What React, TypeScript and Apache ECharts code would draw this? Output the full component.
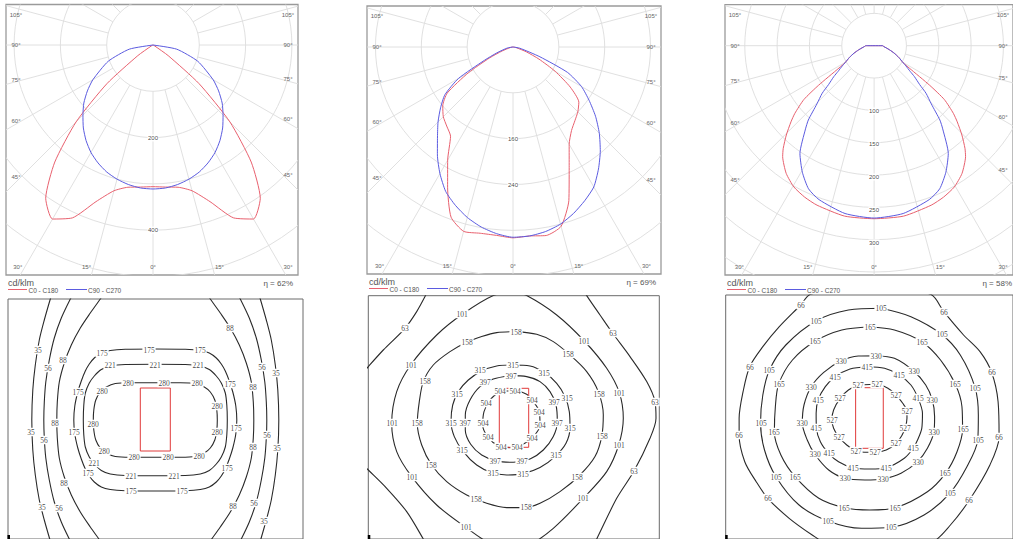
import React, { useEffect, useRef } from "react";
import * as echarts from "echarts";

// ---------------- Polar luminous intensity data (cd/klm) ----------------
const P1_ANGLES = [0, 5, 10, 15, 20, 25, 30, 35, 40, 45, 50, 55, 60, 70, 80, 90];
const P1_C0 = [306, 308, 312, 326, 360, 412, 434, 404, 330, 235, 130, 40, 5, 0, 0, 0];
const P1_C90 = [311, 310, 306, 300, 292, 281, 268, 252, 234, 214, 195, 173, 150, 103, 52, 0];

const P2_ANGLES = [-90, -80, -70, -65, -60, -55, -50, -45, -40, -35, -30, -25, -20, -15, -10, -5, 0, 5, 10, 15, 20, 25, 30, 35, 40, 45, 50, 55, 60, 65, 70, 80, 90];
const P2_C0 = [0, 4, 20, 45, 90, 140, 160, 172, 180, 190, 228, 270, 316, 333, 330, 330, 333, 331, 334, 324, 285, 232, 196, 178, 168, 160, 150, 122, 85, 50, 25, 5, 0];
const P2_C90 = [0, 10, 30, 55, 110, 145, 165, 185, 205, 230, 255, 278, 294, 308, 319, 327, 332, 331, 327, 320, 309, 296, 282, 260, 237, 213, 188, 162, 138, 105, 50, 12, 0];

const P3_ANGLES = [0, 10, 20, 25, 30, 35, 40, 42, 45, 48, 50, 53, 55, 58, 60, 65, 70, 75, 80, 85, 90];
const P3_C0 = [263, 263, 258, 254, 248, 237, 220, 210, 192, 173, 160, 136, 105, 64, 52, 42, 33, 25, 19, 15, 13];
const P3_C90 = [262, 259, 249, 240, 222, 200, 165, 152, 125, 108, 92, 78, 68, 58, 52, 42, 33, 25, 19, 15, 13];

const P1_RING_LABELS = [200, 400];
const P2_RING_LABELS = [160, 240];
const P3_RING_LABELS = [100, 150, 200, 250, 300];
const P_STEPS = [100, 80, 50];
const SIDE_ANGLES = [105, 90, 75, 60, 45];
const BOTTOM_ANGLES = [-30, -15, 0, 15, 30];
const EFFICIENCY = ["62%", "69%", "58%"];
const UNIT = "cd/klm";
const LEGEND = ["C0 - C180", "C90 - C270"];

// ---------------- Isolux contours (relative to luminaire centre) ----------------
// panel 1: quadrant definitions (symmetric)
const C1_280_Q = [[0, -37.3], [25, -37.3], [40, -36.5], [49, -33], [55, -28], [59.5, -20], [61.5, -10], [62, 0]];
const C1_221_Q = [[0, -55.7], [30, -55.5], [45, -54], [54, -50.5], [61, -44], [66, -37], [70, -27], [71.5, -15], [72, 0]];
const C1_175_Q = [[0, -71], [30, -70.7], [45, -69.5], [54, -67], [61, -62], [66, -56], [70, -49], [74, -39], [77.5, -28], [80.5, -14], [81.5, 0]];
const C1_88_Q = [[53, -124], [55, -121], [65, -107], [75, -92], [84, -75], [91, -57], [96, -38], [98, -18], [98.5, 0]];
const C1_56_Q = [[83, -124], [85, -121], [94, -102], [101, -82], [106, -60], [109.5, -38], [111, -18], [111.5, 0]];
const C1_35_Q = [[104, -124], [105, -121], [111, -100], [116, -80], [120, -55], [122.5, -30], [123.5, 0]];
const C1_LUM = [[-15, -32], [15, -32], [15, 31], [-15, 31], [-15, -32]];
const C1_LABELS = [
  [-117, -70, 35], [-92, -60, 88], [-107, -51.7, 56], [-77.7, -28.3, 175], [-100.3, 3.3, 88], [-81.3, 11.7, 175], [-124.7, 11.7, 35], [-111, 20, 56], [-61, 43.3, 221], [-67.7, 53.3, 175], [-91, 63.3, 88], [-113.7, 86.7, 35], [-96, 87.7, 56],
  [74.7, -92.3, 88], [107, -53.3, 56], [120.3, -46.7, 35], [74.7, -36, 175], [97.3, -33.3, 88], [80.7, 7.7, 175], [111.3, 15, 56], [98, 26.7, 88], [122, 27.7, 35], [71.3, 47.7, 175], [78, 85.7, 88], [98.7, 83.3, 56], [109, 101, 35],
  [-53, -67.3, 175], [-6.3, -70.5, 175], [44.7, -70, 175], [-45.3, -55.5, 221], [-0.3, -55.5, 221], [43, -55, 221], [-27, -37.3, 280], [8.7, -37.3, 280], [41.3, -36.8, 280], [-53.7, -29, 280], [61.3, -14.3, 280], [-62, 4.3, 280], [62, 11.7, 280], [-51, 31, 280], [-21.3, 37.3, 280], [12.3, 37.3, 280], [43.7, 36, 280], [-24.3, 55.7, 221], [19, 55.7, 221], [-24.7, 70.9, 175], [27, 70.7, 175],
];

// panel 2
const C2_504 = [[-14, -26.8], [1.3, -26.8], [12.7, -23.5], [19.3, -16.2], [25.3, -6.2], [26, 7.2], [19.3, 18.8], [7.7, 27.2], [-4, 29.8], [-15.7, 27.8], [-25.7, 19.8], [-31.3, 7.2], [-30, -6.2], [-24, -17.8]];
const C2_397 = [[-3.3, -42.2], [12.7, -41.2], [26, -36.2], [36, -26.2], [42, -12.8], [43.3, 3.8], [39.3, 18.8], [29.3, 32.2], [16, 41.2], [-0.7, 44.5], [-17.3, 43.2], [-32.3, 37.2], [-43.3, 26.5], [-48.7, 12.2], [-48.7, -2.8], [-44, -17.8], [-34, -31.2], [-20.7, -38.8]];
const C2_315 = [[-1.3, -52.8], [16, -51.8], [30, -45.5], [42.7, -34.5], [51, -21.2], [55.3, -6.2], [56, 9.8], [52, 25.5], [41, 38.8], [26, 49.8], [9.3, 55.8], [-7.3, 57.2], [-22.3, 54.8], [-37.3, 47.2], [-50.7, 33.8], [-59.7, 18.8], [-63, 3.8], [-61.3, -12.8], [-55.7, -26.2], [-45.7, -37.8], [-32.3, -46.8], [-17.3, -51.8]];
const C2_158 = [[2, -86.2], [22.7, -83.5], [39.3, -76.2], [56, -62.8], [72.7, -46.2], [84.3, -26.2], [89.3, -2.8], [87.7, 18.8], [81, 38.8], [66, 57.2], [46, 73.8], [26, 85.5], [11, 89.8], [-7.3, 89.8], [-27.3, 85.5], [-47.3, 77.2], [-67.3, 63.8], [-82.3, 47.2], [-92.3, 27.2], [-96.7, 5.5], [-94.7, -16.2], [-90.7, -36.2], [-80.7, -52.8], [-64, -66.2], [-47.3, -75.5], [-32.3, -81.2], [-17.3, -85.2]];
const C2_101 = [[-0.7, -126.2], [12.7, -122.2], [42.7, -102.8], [70.3, -76.8], [92.7, -49.5], [105.3, -25.2], [109.3, 0.5], [104.7, 27.2], [92.7, 53.8], [69.3, 80.5], [39.3, 110.5], [12.7, 128.8], [-0.7, 130.5], [-24, 125.5], [-48.3, 109.5], [-77.3, 87.2], [-102.3, 58.8], [-117.3, 33.8], [-122.3, 5.5], [-117.3, -26.2], [-103.3, -52.8], [-77.3, -82.8], [-51.7, -103.5], [-20.7, -122.2]];
const C2_63_UL = [[-150, -46], [-145.7, -51.2], [-130.7, -67.8], [-109, -89.5], [-97.3, -106.2], [-89, -121.2], [-87, -126]];
const C2_63_LL = [[-150, 48], [-145.7, 52.2], [-127.3, 70.5], [-107.3, 93.8], [-90.7, 121.2], [-89, 125]];
const C2_63_R = [[70, -127], [72.7, -122.2], [86, -102.8], [98.7, -84.5], [116, -61.2], [132.7, -36.2], [141, -16.2], [142, 0.5], [136, 20.5], [120, 53.2], [102.7, 80.5], [82.7, 121.2], [80, 126]];
const C2_LUM = [[-14.7, -29.5], [14.7, -29.5], [14.7, 29.5], [-14.7, 29.5], [-14.7, -29.5]];
const C2_LABELS = [
  [-51.7, -103.5, 101], [-109, -89.5, 63], [2, -85.5, 158], [-47.3, -75.5, 158], [70.3, -76.8, 101], [98.7, -84.5, 63], [54, -63.5, 158], [-103.3, -52.8, 101], [-89.5, -36.8, 158],
  [-34, -47.8, 315], [-1.3, -52.8, 315], [-3.3, -42.2, 397], [-29, -35.5, 397], [30, -45, 315], [-57.3, -23.8, 315], [-14, -26.5, 504], [1.3, -26.5, 504], [-28.3, -15.2, 504], [17.7, -17.8, 504],
  [40.3, -15.5, 397], [52.7, -19.8, 315], [85.3, -23.5, 158], [105.3, -25.2, 101], [141, -15.5, 63], [25.3, -6.2, 504], [-122.3, 5.5, 101], [-96.7, 5.5, 158], [-63, 5.5, 315], [-48.7, 5.5, 397], [-31.3, 5.5, 504],
  [25.8, 7.2, 504], [43, 4.8, 397], [55.5, 9.8, 315], [87.5, 17.8, 158], [104.7, 27.2, 101], [-26.3, 19.5, 504], [17.7, 19.8, 504], [-12.7, 29.5, 504], [2.7, 29.5, 504], [-52, 32.2, 315], [41.5, 37.2, 315],
  [-19, 43.2, 397], [7.7, 43.2, 397], [-83, 47.2, 158], [120, 53.2, 63], [-21.3, 54.8, 315], [9.3, 55.8, 315], [-102.3, 58.8, 101], [63, 58.8, 158], [69.3, 80.5, 101], [-38, 81.5, 158], [12, 89.5, 158], [-48.3, 109.5, 101],
];

// panel 3
const C3_527 = [[-11.3, -33], [7.7, -33.7], [18.7, -29.7], [27, -23], [33.7, -14.7], [38, -7], [38, 0.3], [36.3, 9.7], [32.7, 17.7], [27, 25.3], [17, 32], [5.3, 34.3], [-4.7, 34.3], [-14, 32.7], [-23, 27], [-31.3, 18.7], [-36.3, 10.3], [-38, 2], [-36.3, -8], [-29.7, -19.7], [-21.3, -28]];
const C3_415 = [[-2.3, -51.3], [15.3, -49.7], [30.3, -43], [42, -33], [49.3, -19.7], [53.7, -4.7], [53, 10.3], [48.7, 22], [44.3, 30.3], [35.3, 40.3], [17, 49.7], [0.3, 51], [-17, 49.7], [-31.3, 43.7], [-41.3, 35.3], [-49.7, 23.7], [-53.7, 9.7], [-54, -4.7], [-52, -18], [-44.7, -31.3], [-34.7, -41.3], [-19.7, -49]];
const C3_330 = [[7, -62.3], [25.3, -59.7], [44.7, -47], [57, -33], [63.7, -18], [66, -1.3], [65.3, 13.7], [58.7, 30.3], [48.7, 43.7], [32, 55.3], [13.7, 61], [-4.7, 62], [-24.7, 60.3], [-41.3, 52], [-55.3, 36.3], [-63, 22], [-68, 5.3], [-66.3, -13], [-59, -31.3], [-46.3, -45.7], [-29, -57], [-11.3, -62]];
const C3_165 = [[0.3, -91.3], [25.3, -88], [53, -76.3], [72, -58], [87, -33.7], [93.7, -11.3], [94.3, 11], [88.7, 33.7], [77, 55.3], [58.7, 73.7], [26.3, 89.7], [0.3, 92], [-25.3, 89.7], [-51.3, 80.3], [-75.3, 58.7], [-89.7, 37], [-96.3, 13.7], [-95.3, -11.3], [-92, -33.7], [-78, -58], [-54.7, -77], [-28, -88]];
const C3_105 = [[12, -109.7], [42, -101.3], [73, -83.7], [92, -63], [107, -30.3], [110.3, -3], [109.7, 22], [98.7, 48.7], [81.3, 75.3], [55.3, 97], [22, 109.3], [-8, 110.3], [-42, 103], [-71.3, 87], [-94.7, 58.7], [-106.3, 32], [-110.3, 4.7], [-108, -23], [-101.3, -48], [-84.7, -73], [-53.7, -97.3], [-21.3, -108]];
const C3_66 = [[0, -135], [62, -123.7], [75.3, -106.3], [95.3, -83], [112, -66.3], [123.7, -45.7], [130.3, -16.3], [131.3, 18.7], [122, 47], [101.3, 82], [82, 107], [62, 125.3], [0, 138], [-41.3, 127], [-58, 117], [-81.3, 100.3], [-103, 80.3], [-114.7, 63.7], [-126.3, 43.7], [-132, 17], [-132, 0.3], [-128, -26.3], [-121.3, -51.3], [-108, -71.3], [-91.3, -91.3], [-69.7, -113], [-59.7, -123.7]];
const C3_LUM = [[-14, -30.3], [14, -30.3], [14, 30.3], [-14, 30.3], [-14, -30.3]];
const C3_LABELS = [
  [-69.7, -113, 66], [12, -109.7, 105], [75.3, -106.3, 66], [-53.7, -97.3, 105], [0.3, -91.3, 165], [73, -83.7, 105], [-54.7, -77, 165], [53, -76.3, 165], [-29, -57, 330], [7, -62.3, 330],
  [-2.3, -51.3, 415], [-121.3, -51.3, 66], [-101.3, -48, 105], [44.7, -47, 330], [123.7, -45.7, 66], [-34.7, -41.3, 415], [30.3, -43, 415], [-92, -33.7, 165], [87, -33.7, 165], [107, -30.3, 105],
  [-11.3, -33, 527], [7.7, -33.7, 527], [-59, -31.3, 330], [-29.7, -19.7, 527], [-52, -18, 415], [27, -23, 527], [49.3, -19.7, 415], [63.7, -18, 330], [38, -7, 527], [-110.3, 4.7, 105],
  [-96.3, 13.7, 165], [-68, 5.3, 330], [-53.7, 9.7, 415], [-38, 2, 527], [36.3, 9.7, 527], [65.3, 13.7, 330], [94.3, 11, 165], [109.7, 22, 105], [-132, 17, 66], [131.3, 18.7, 66],
  [-31.3, 18.7, 527], [27, 25.3, 527], [44.3, 30.3, 415], [-14, 32.7, 527], [5.3, 34.3, 527], [-41.3, 35.3, 415], [-55.3, 36.3, 330], [48.7, 43.7, 330], [-17, 49.7, 415], [17, 49.7, 415],
  [77, 55.3, 165], [-94.7, 58.7, 105], [-75.3, 58.7, 165], [-24.7, 60.3, 330], [13.7, 61, 330], [81.3, 75.3, 105], [-103, 80.3, 66], [101.3, 82, 66], [-25.3, 89.7, 165], [26.3, 89.7, 165],
  [-42, 103, 105], [22, 109.3, 105],
];

// ---------------- helpers ----------------
const SANS = "Liberation Sans, Arial, sans-serif";
const SERIF = "Liberation Serif, Times New Roman, serif";
const RED = "#e8606e";
const BLUE = "#5b5be0";
const GRID_LINE = "#dcdcdc";
const rad = (a: number) => (a * Math.PI) / 180;
const toXY = (a: number, v: number) => [v * Math.sin(rad(a)), -v * Math.cos(rad(a))];
const mirrorCurve = (angles: number[], values: number[]) => {
  const out: number[][] = [];
  for (let i = angles.length - 1; i > 0; i--) out.push(toXY(-angles[i], values[i]));
  for (let i = 0; i < angles.length; i++) out.push(toXY(angles[i], values[i]));
  return out;
};
const directCurve = (angles: number[], values: number[]) => angles.map((a, i) => toXY(a, values[i]));
const closed = (pts: number[][]) => [...pts, pts[0]];
const quadLoop = (q: number[][]) => {
  const ur = q;
  const lr = q.slice(0, -1).reverse().map(([x, y]) => [x, -y]);
  const ll = q.slice(1).map(([x, y]) => [-x, -y]);
  const ul = q.slice(0, -1).reverse().map(([x, y]) => [-x, y]);
  return [...ur, ...lr, ...ll, ...ul];
};
const halfCurve = (q: number[][], sign: number) => {
  const top = q.map(([x, y]) => [sign * x, y]);
  const bottom = q.slice(0, -1).reverse().map(([x, y]) => [sign * x, -y]);
  return [...top, ...bottom];
};

const POLAR = [
  { l: { left: 6, top: 4.5, width: 292, height: 270.5, cx: 153, cy: 45, upp: 100 / 46.3 }, step: P_STEPS[0], rings: P1_RING_LABELS, c0: mirrorCurve(P1_ANGLES, P1_C0), c90: mirrorCurve(P1_ANGLES, P1_C90), eff: EFFICIENCY[0] },
  { l: { left: 367, top: 6, width: 294, height: 268, cx: 513, cy: 47, upp: 1.745 }, step: P_STEPS[1], rings: P2_RING_LABELS, c0: directCurve(P2_ANGLES, P2_C0), c90: directCurve(P2_ANGLES, P2_C90), eff: EFFICIENCY[1] },
  { l: { left: 725, top: 4.7, width: 293, height: 270.3, cx: 876.7, cy: 45.7, upp: 1.52 }, step: P_STEPS[2], rings: P3_RING_LABELS, c0: closed(mirrorCurve(P3_ANGLES, P3_C0)), c90: closed(mirrorCurve(P3_ANGLES, P3_C90)), eff: EFFICIENCY[2] },
];

const CONTOURS = [
  {
    l: { left: 8, top: 299, width: 295, height: 240, cx: 155.3, cy: 420 },
    lines: [quadLoop(C1_280_Q), quadLoop(C1_221_Q), quadLoop(C1_175_Q), halfCurve(C1_88_Q, 1), halfCurve(C1_88_Q, -1), halfCurve(C1_56_Q, 1), halfCurve(C1_56_Q, -1), halfCurve(C1_35_Q, 1), halfCurve(C1_35_Q, -1)],
    lum: C1_LUM, labels: C1_LABELS,
  },
  {
    l: { left: 368.3, top: 295.7, width: 291, height: 243.3, cx: 514, cy: 417.8 },
    lines: [closed(C2_504), closed(C2_397), closed(C2_315), closed(C2_158), closed(C2_101), C2_63_UL, C2_63_LL, C2_63_R],
    lum: C2_LUM, labels: C2_LABELS,
  },
  {
    l: { left: 725.7, top: 295, width: 291, height: 244, cx: 871.3, cy: 418 },
    lines: [closed(C3_527), closed(C3_415), closed(C3_330), closed(C3_165), closed(C3_105), closed(C3_66)],
    lum: C3_LUM, labels: C3_LABELS,
  },
];

const txt = (text: string, x: number, y: number, size: number, fill: string, align = "left", family = SANS) => ({
  text, x, y, fill, fontSize: size, fontFamily: family,
  align, textAlign: align, verticalAlign: "middle", textVerticalAlign: "middle",
});

const makeGridRenderer = (step: number) => (params: any, api: any) => {
  const cs = params.coordSys;
  const c = api.coord([0, 0]);
  const unit = Math.abs(api.size([step, 0])[0]);
  const dx = Math.max(c[0] - cs.x, cs.x + cs.width - c[0]);
  const dy = Math.max(c[1] - cs.y, cs.y + cs.height - c[1]);
  const rMax = Math.hypot(dx, dy) + 2;
  const children: any[] = [];
  for (let r = unit; r < rMax + unit; r += unit) {
    children.push({ type: "circle", shape: { cx: c[0], cy: c[1], r }, style: { fill: "none", stroke: GRID_LINE, lineWidth: 0.9 } });
  }
  for (let a = 0; a < 360; a += 15) {
    const s = Math.sin(rad(a)), co = Math.cos(rad(a));
    children.push({ type: "line", shape: { x1: c[0] + unit * s, y1: c[1] + unit * co, x2: c[0] + rMax * s, y2: c[1] + rMax * co }, style: { stroke: GRID_LINE, lineWidth: 0.9 } });
  }
  const bottom = cs.y + cs.height;
  SIDE_ANGLES.forEach((a) => {
    [cs.x + 10, cs.x + cs.width - 10].forEach((x) => {
      const d = Math.abs(c[0] - x);
      let y = c[1] + d / Math.tan(rad(a)) - 7 * Math.cos(rad(a));
      y = Math.max(y, cs.y + 10);
      children.push({ type: "text", style: txt(a + "°", x, y, 6, "#666", "center") });
    });
  });
  BOTTOM_ANGLES.forEach((a) => {
    const yl = bottom - 8;
    let x = c[0] + (yl - c[1]) * Math.tan(rad(a)) + Math.sign(a) * 7;
    x = Math.min(Math.max(x, cs.x + 10), cs.x + cs.width - 10);
    children.push({ type: "text", style: txt(Math.abs(a) + "°", x, yl, 6, "#666", "center") });
  });
  return { type: "group", children };
};

// value labels drawn at data positions through the axes (white box behind, grey text)
const makeLabelRenderer = (size: number, family: string, color: string) => (params: any, api: any) => {
  const pt = api.coord([api.value(0), api.value(1)]);
  const text = String(api.value(2));
  const w = text.length * size * 0.5 + 2;
  const h = size + 1;
  const x = Math.round(pt[0]);
  const y = Math.round(pt[1]);
  return {
    type: "group",
    children: [
      { type: "rect", shape: { x: x - w / 2, y: y - h / 2, width: w, height: h }, style: { fill: "#fff" } },
      { type: "text", style: { ...txt(text, x, y, size, color, "center", family), opacity: 0.98 } },
    ],
  };
};

function buildOption() {
  const grid: any[] = [];
  const xAxis: any[] = [];
  const yAxis: any[] = [];
  const series: any[] = [];
  const graphic: any[] = [];

  POLAR.forEach((p, i) => {
    const l = p.l;
    grid.push({ left: l.left, top: l.top, width: l.width, height: l.height, show: true, borderColor: "#9a9a9a", borderWidth: 1.3, backgroundColor: "#fff" });
    xAxis.push({ type: "value", gridIndex: i, show: false, min: (l.left - l.cx) * l.upp, max: (l.left + l.width - l.cx) * l.upp });
    yAxis.push({ type: "value", gridIndex: i, show: false, min: (l.cy - l.top - l.height) * l.upp, max: (l.cy - l.top) * l.upp });
    series.push({ type: "custom", xAxisIndex: i, yAxisIndex: i, data: [[0, 0]], renderItem: makeGridRenderer(p.step), clip: true, silent: true, z: 1 });
    series.push({ type: "line", name: LEGEND[0], xAxisIndex: i, yAxisIndex: i, data: p.c0, symbol: "none", smooth: 0.2, lineStyle: { color: RED, width: 1 }, z: 3, silent: true });
    series.push({ type: "line", name: LEGEND[1], xAxisIndex: i, yAxisIndex: i, data: p.c90, symbol: "none", smooth: 0.2, lineStyle: { color: BLUE, width: 1 }, z: 3, silent: true });
    series.push({
      type: "custom", xAxisIndex: i, yAxisIndex: i, data: p.rings.map((v) => [0, -v, v]),
      renderItem: makeLabelRenderer(6, SANS, "#444"), silent: true, z: 4,
    });
    const b = l.top + l.height;
    const ly = Math.round(b + 14);
    graphic.push({ type: "text", z: 10, style: txt(UNIT, l.left + 2, b + 8, 9, "#555") });
    graphic.push({ type: "rect", z: 10, shape: { x: l.left + 2, y: ly, width: 19, height: 1 }, style: { fill: RED } });
    graphic.push({ type: "text", z: 10, style: txt(LEGEND[0], l.left + 22.5, ly + 1, 6.5, "#555") });
    graphic.push({ type: "rect", z: 10, shape: { x: l.left + 60, y: ly, width: 21, height: 1 }, style: { fill: BLUE } });
    graphic.push({ type: "text", z: 10, style: txt(LEGEND[1], l.left + 82, ly + 1, 6.5, "#555") });
    graphic.push({ type: "text", z: 10, style: txt("η = " + p.eff, Math.min(l.left + l.width - 5, 1012), b + 8.5, 8, "#555", "right") });
  });

  CONTOURS.forEach((c, j) => {
    const i = j + 3;
    const l = c.l;
    grid.push({ left: l.left, top: l.top, width: l.width, height: l.height, show: true, borderColor: "#6a6a6a", borderWidth: 1, backgroundColor: "#fff" });
    xAxis.push({ type: "value", gridIndex: i, show: false, min: l.left - l.cx, max: l.left + l.width - l.cx });
    yAxis.push({ type: "value", gridIndex: i, show: false, inverse: true, min: l.top - l.cy, max: l.top + l.height - l.cy });
    c.lines.forEach((pts) => {
      series.push({ type: "line", xAxisIndex: i, yAxisIndex: i, data: pts, symbol: "none", smooth: 0.3, lineStyle: { color: "#2a2a2a", width: 1.1 }, z: 2, silent: true });
    });
    series.push({ type: "line", xAxisIndex: i, yAxisIndex: i, data: c.lum, symbol: "none", lineStyle: { color: "#e03a3a", width: 1 }, z: 3, silent: true });
    series.push({
      type: "custom", xAxisIndex: i, yAxisIndex: i, data: c.labels,
      renderItem: makeLabelRenderer(7.5, SERIF, "#444"), silent: true, z: 5,
    });
    graphic.push({ type: "rect", shape: { x: l.left - 0.5, y: 535, width: 2.5, height: 4 }, style: { fill: "#000" } });
  });

  return { animation: false, backgroundColor: "#fff", grid, xAxis, yAxis, series, graphic };
}

export default function App() {
  const ref = useRef<HTMLDivElement>(null);
  useEffect(() => {
    if (!ref.current) return;
    const chart = echarts.init(ref.current, null, { renderer: "svg" });
    chart.setOption(buildOption() as any);
    return () => chart.dispose();
  }, []);
  return <div ref={ref} style={{ position: "fixed", left: 0, top: 0, width: 1013, height: 539, background: "#fff" }} />;
}
